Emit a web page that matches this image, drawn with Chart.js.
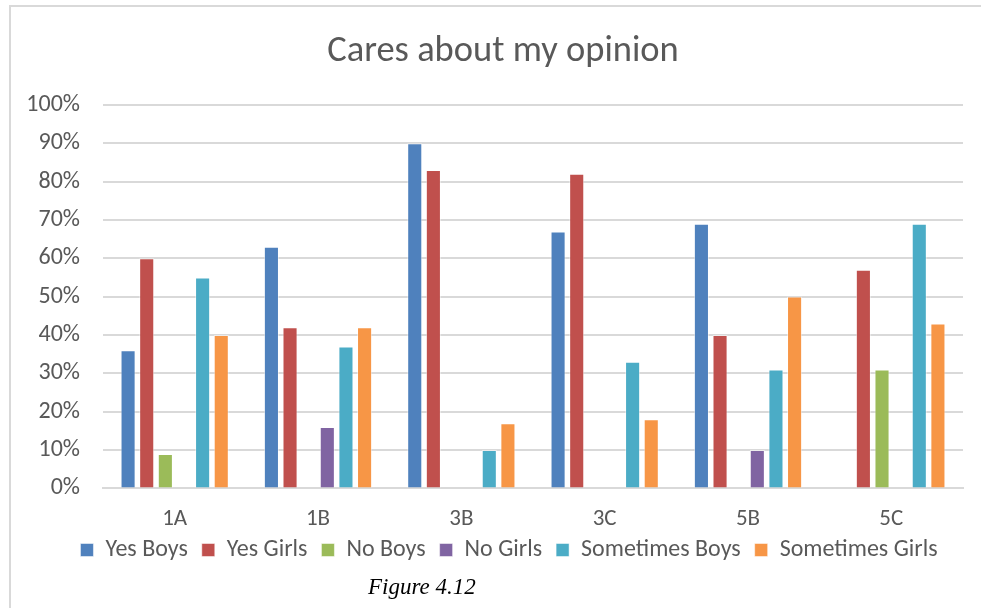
<!DOCTYPE html>
<html>
<head>
<meta charset="utf-8">
<script src="https://cdn.jsdelivr.net/npm/chart.js@4"></script>
<style>
  html, body { margin: 0; padding: 0; background: #fff; }
  body { width: 981px; height: 608px; position: relative; overflow: hidden; }
  #frame { position: absolute; left: 9px; top: 5px; width: 980px; height: 610px;
           border-left: 2px solid #D9D9D9; border-top: 2px solid #D9D9D9; }
  #wrap { position: absolute; left: 0; top: 0; width: 981px; height: 608px; }
  #caption { position: absolute; left: 368px; top: 573px; font-family: "Liberation Serif", "DejaVu Serif", serif;
             font-style: italic; font-size: 23px; line-height: 28px; color: #000; }
</style>
</head>
<body>
<div id="frame"></div>
<div id="wrap"><canvas id="c" width="981" height="608"></canvas></div>
<div id="caption">Figure 4.12</div>
<script>
const categories = ["1A", "1B", "3B", "3C", "5B", "5C"];
const yesBoys        = [36, 63, 90, 67, 69, 0];
const yesGirls       = [60, 42, 83, 82, 40, 57];
const noBoys         = [9, 0, 0, 0, 0, 31];
const noGirls        = [0, 16, 0, 0, 10, 0];
const sometimesBoys  = [55, 37, 10, 33, 31, 69];
const sometimesGirls = [40, 42, 17, 18, 50, 43];
const seriesNames = ["Yes Boys", "Yes Girls", "No Boys", "No Girls", "Sometimes Boys", "Sometimes Girls"];
const yTicks = [0, 10, 20, 30, 40, 50, 60, 70, 80, 90, 100];

const colors = ["#4F81BD", "#C0504D", "#9BBB59", "#8064A2", "#4BACC6", "#F79646"];
const seriesData = [yesBoys, yesGirls, noBoys, noGirls, sometimesBoys, sometimesGirls];
const FONT = "Carlito, Lato, 'Open Sans', sans-serif";

const datasets = seriesNames.map((name, i) => ({
  label: name,
  data: seriesData[i],
  backgroundColor: colors[i],
  borderColor: 'rgba(255,255,255,0.5)',
  borderWidth: 1,
  categoryPercentage: 0.78,
  barPercentage: 0.81
}));

// nudge legend and title boxes after layout to match the reference placement
const nudge = {
  id: 'nudge',
  afterLayout(chart) {
    const L = chart.legend;
    if (L) {
      const dx = 13.5;
      const dy = 524 - L.top;
      L.left += dx; L.right += dx; L.top += dy; L.bottom += dy;
    }
    const T = chart.titleBlock;
    if (T) { T.left += 7.5; T.right += 7.5; }
  }
};

new Chart(document.getElementById('c'), {
  type: 'bar',
  data: { labels: categories, datasets },
  plugins: [nudge],
  options: {
    responsive: false,
    animation: false,
    devicePixelRatio: 1,
    layout: { padding: { left: 28, right: 18, top: 0, bottom: 10 } },
    plugins: {
      title: {
        display: true,
        text: "Cares about my opinion",
        color: "#595959",
        font: { family: FONT, size: 36.5, weight: 'normal' },
        padding: { top: 30, bottom: 31 }
      },
      legend: {
        position: 'bottom',
        labels: {
          color: "#595959",
          font: { family: FONT, size: 24 },
          boxWidth: 13, boxHeight: 13, padding: 14
        }
      },
      tooltip: { enabled: false }
    },
    scales: {
      x: {
        grid: { display: false, drawTicks: false },
        border: { display: true, color: "#D9D9D9", width: 2 },
        ticks: { color: "#595959", font: { family: FONT, size: 23 }, padding: 17 }
      },
      y: {
        min: 0, max: 100,
        afterBuildTicks: (s) => { s.ticks = yTicks.map(v => ({ value: v })); },
        afterFit: (s) => { s.width = 75; },
        grid: { color: "#D9D9D9", lineWidth: 2, drawTicks: false },
        border: { display: false },
        ticks: { color: "#595959", font: { family: FONT, size: 24 }, padding: 23,
                 callback: (v) => v + "%" }
      }
    }
  }
});
</script>
</body>
</html>
